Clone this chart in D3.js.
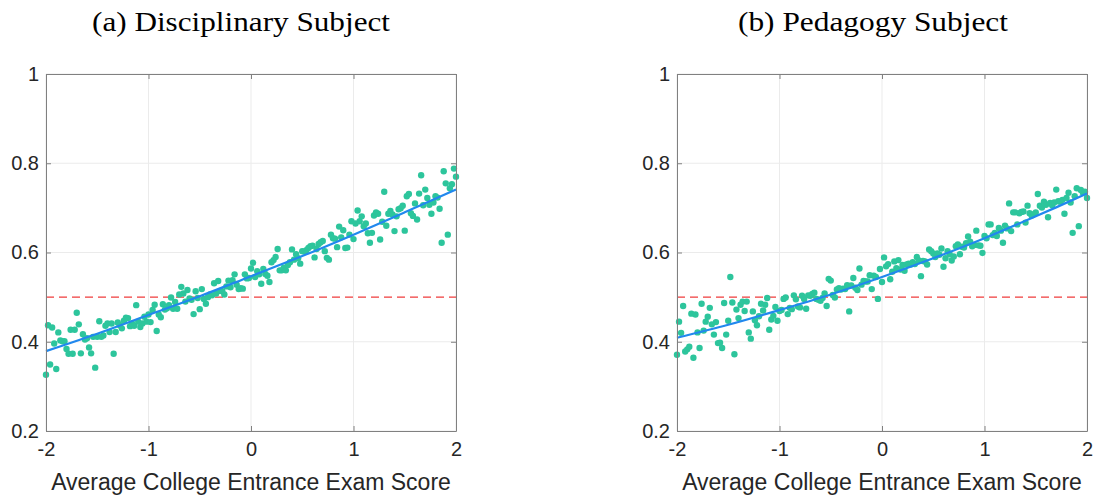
<!DOCTYPE html>
<html lang="en">
<head>
<meta charset="utf-8">
<title>College entrance score vs pass rate</title>
<script src="https://cdn.jsdelivr.net/npm/d3@7"></script>
<style>
  body { margin: 0; background: #fff; }
  .tick text { font-family: "Liberation Sans", Arial, sans-serif; font-size: 20px; fill: #262626; }
  .title { font-family: "Liberation Serif", "DejaVu Serif", serif; font-size: 28px; fill: #000; }
  .xlabel { font-family: "Liberation Sans", Arial, sans-serif; font-size: 23px; fill: #262626; }
</style>
</head>
<body>
<script>
// x positions of the binned scores (-2 .. 2, step 0.02)
var xBins = d3.range(0, 201).map(function(i) { return +(-2 + i * 0.02).toFixed(2); });

// (a) Disciplinary Subject - share per bin
var discY = [
  0.326,0.437,0.349,0.432,0.396,0.339,0.421,0.403,0.401,0.401,
  0.384,0.373,0.427,0.373,0.427,0.465,0.439,0.374,0.417,0.405,
  0.408,0.387,0.374,0.411,0.342,0.411,0.446,0.411,0.414,0.436,
  0.441,0.422,0.441,0.373,0.422,0.443,0.437,0.430,0.447,0.454,
  0.453,0.435,0.441,0.436,0.482,0.445,0.433,0.441,0.456,0.445,
  0.461,0.444,0.471,0.483,0.424,0.461,0.455,0.484,0.472,0.475,
  0.482,0.499,0.474,0.489,0.474,0.506,0.523,0.508,0.490,0.516,
  0.497,0.494,0.462,0.513,0.498,0.473,0.518,0.496,0.485,0.500,
  0.506,0.504,0.531,0.508,0.536,0.514,0.513,0.506,0.524,0.537,
  0.522,0.538,0.551,0.528,0.518,0.520,0.519,0.551,0.542,0.543,
  0.564,0.577,0.545,0.558,0.551,0.530,0.563,0.552,0.548,0.534,
  0.578,0.583,0.590,0.608,0.560,0.560,0.566,0.560,0.572,0.578,
  0.607,0.584,0.596,0.587,0.575,0.603,0.602,0.605,0.610,0.614,
  0.615,0.589,0.608,0.619,0.623,0.626,0.603,0.588,0.584,0.640,
  0.632,0.631,0.612,0.658,0.634,0.650,0.610,0.611,0.640,0.670,
  0.630,0.665,0.694,0.670,0.681,0.659,0.665,0.643,0.622,0.644,
  0.683,0.690,0.687,0.629,0.669,0.736,0.660,0.687,0.693,0.685,
  0.648,0.681,0.697,0.699,0.705,0.649,0.726,0.731,0.688,0.682,
  0.710,0.674,0.732,0.773,0.706,0.741,0.722,0.707,0.687,0.712,
  0.726,0.723,0.698,0.622,0.782,0.755,0.640,0.744,0.753,0.788,
  0.770
];

// (b) Pedagogy Subject - share per bin
var pedY = [
  0.371,0.445,0.420,0.480,0.378,0.383,0.389,0.463,0.364,0.461,
  0.421,0.386,0.485,0.425,0.445,0.456,0.476,0.439,0.416,0.444,
  0.397,0.398,0.386,0.487,0.416,0.447,0.545,0.488,0.372,0.472,
  0.453,0.483,0.490,0.469,0.490,0.421,0.407,0.468,0.448,0.437,
  0.457,0.485,0.470,0.483,0.498,0.427,0.450,0.458,0.478,0.447,
  0.469,0.471,0.496,0.499,0.462,0.476,0.473,0.504,0.495,0.479,
  0.477,0.503,0.496,0.474,0.504,0.503,0.507,0.510,0.496,0.494,
  0.492,0.498,0.508,0.480,0.541,0.537,0.505,0.499,0.517,0.520,
  0.517,0.519,0.518,0.527,0.468,0.526,0.543,0.521,0.516,0.564,
  0.528,0.536,0.535,0.535,0.549,0.518,0.548,0.545,0.496,0.563,
  0.534,0.589,0.569,0.574,0.540,0.557,0.580,0.565,0.583,0.562,
  0.572,0.559,0.573,0.575,0.573,0.578,0.574,0.590,0.582,0.547,
  0.581,0.580,0.573,0.607,0.603,0.598,0.590,0.598,0.595,0.609,
  0.568,0.587,0.603,0.596,0.582,0.591,0.614,0.618,0.596,0.613,
  0.611,0.621,0.636,0.624,0.614,0.617,0.649,0.616,0.615,0.599,
  0.637,0.632,0.663,0.663,0.639,0.644,0.637,0.655,0.649,0.622,
  0.660,0.654,0.710,0.648,0.690,0.690,0.663,0.688,0.691,0.692,
  0.667,0.705,0.688,0.683,0.686,0.690,0.731,0.705,0.701,0.714,
  0.707,0.679,0.711,0.706,0.712,0.741,0.715,0.714,0.718,0.687,
  0.722,0.734,0.712,0.644,0.726,0.744,0.659,0.740,0.734,0.736,
  0.722
];

// fitted curves, read at a few x points
var fitX = [-2, -1.5, -1, -0.5, 0, 0.5, 1, 1.5, 2];
var discFit = [0.379, 0.418, 0.460, 0.502, 0.547, 0.592, 0.640, 0.690, 0.741];
var pedFit  = [0.409, 0.438, 0.471, 0.506, 0.545, 0.587, 0.632, 0.681, 0.732];

var xTicks = [-2, -1, 0, 1, 2];
var yTicks = [0.2, 0.4, 0.6, 0.8, 1];
var refLine = 0.5;
var titles = ["(a) Disciplinary Subject", "(b) Pedagogy Subject"];
var xLabel = "Average College Entrance Exam Score";

var W = 1096, H = 498;
var dotColor = "#2dc59c", fitColor = "#2188ee", refColor = "#f03c3c", boxColor = "#808080";

var svg = d3.select("body").append("svg")
  .attr("width", W)
  .attr("height", H);

var panels = [
  {left: 46, right: 456, ys: discY, fit: discFit, title: titles[0], tx: 92, tw: 298},
  {left: 677, right: 1087, ys: pedY, fit: pedFit, title: titles[1], tx: 738, tw: 270}
];
var plotTop = 74, plotBottom = 431;

panels.forEach(function(p) {
  var x = d3.scaleLinear().domain([-2, 2]).range([p.left, p.right]);
  var y = d3.scaleLinear().domain([0.2, 1]).range([plotBottom, plotTop]);
  var g = svg.append("g");

  // grid
  g.selectAll("line.gx").data(xTicks).enter().append("line")
    .attr("x1", function(d) { return x(d); }).attr("x2", function(d) { return x(d); })
    .attr("y1", plotTop).attr("y2", plotBottom)
    .attr("stroke", "#ebebeb").attr("stroke-width", 1);
  g.selectAll("line.gy").data(yTicks).enter().append("line")
    .attr("y1", function(d) { return y(d); }).attr("y2", function(d) { return y(d); })
    .attr("x1", p.left).attr("x2", p.right)
    .attr("stroke", "#ebebeb").attr("stroke-width", 1);

  // reference line
  g.append("line")
    .attr("x1", x(-2)).attr("x2", x(2))
    .attr("y1", y(refLine)).attr("y2", y(refLine))
    .attr("stroke", refColor).attr("stroke-width", 1.4)
    .attr("stroke-dasharray", "8,5");

  // points
  g.selectAll("circle").data(p.ys).enter().append("circle")
    .attr("cx", function(d, i) { return x(xBins[i]); })
    .attr("cy", function(d) { return y(d); })
    .attr("r", 3.2)
    .attr("fill", dotColor);

  // fit
  var line = d3.line()
    .x(function(d, i) { return x(fitX[i]); })
    .y(function(d) { return y(d); })
    .curve(d3.curveCatmullRom);
  g.append("path").datum(p.fit)
    .attr("d", line)
    .attr("fill", "none")
    .attr("stroke", fitColor)
    .attr("stroke-width", 2.2);

  // axes (box with inside ticks)
  var ax = function(a) {
    a.select(".domain").attr("stroke", boxColor).attr("stroke-width", 1);
    a.selectAll(".tick line").attr("stroke", boxColor);
  };
  svg.append("g").attr("transform", "translate(0," + plotBottom + ")")
    .call(d3.axisBottom(x).tickValues(xTicks).tickSizeInner(-5).tickSizeOuter(0).tickPadding(11)
      .tickFormat(function(d) { return String(d); }))
    .call(ax);
  svg.append("g").attr("transform", "translate(0," + plotTop + ")")
    .call(d3.axisTop(x).tickValues(xTicks).tickSizeInner(-5).tickSizeOuter(0).tickFormat(""))
    .call(ax);
  svg.append("g").attr("transform", "translate(" + p.left + ",0)")
    .call(d3.axisLeft(y).tickValues(yTicks).tickSizeInner(-5).tickSizeOuter(0).tickPadding(7)
      .tickFormat(function(d) { return d === 1 ? "1" : d3.format(".1f")(d); }))
    .call(ax);
  svg.append("g").attr("transform", "translate(" + p.right + ",0)")
    .call(d3.axisRight(y).tickValues(yTicks).tickSizeInner(-5).tickSizeOuter(0).tickFormat(""))
    .call(ax);

  // titles and label
  svg.append("text").attr("class", "title")
    .attr("x", p.tx).attr("y", 31)
    .attr("textLength", p.tw).attr("lengthAdjust", "spacingAndGlyphs")
    .text(p.title);
  svg.append("text").attr("class", "xlabel")
    .attr("x", (p.left + p.right) / 2).attr("y", 490)
    .attr("text-anchor", "middle")
    .text(xLabel);
});
</script>
</body>
</html>
